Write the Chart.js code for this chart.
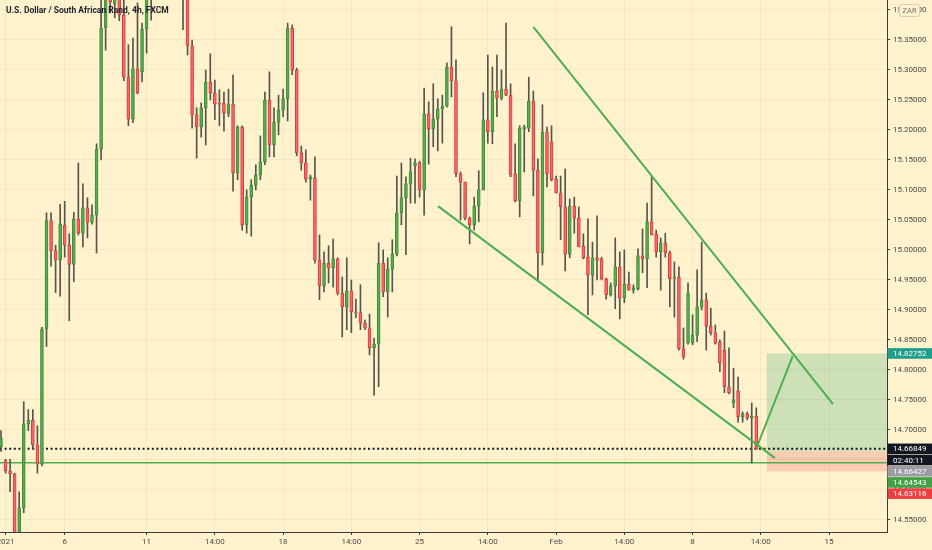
<!DOCTYPE html>
<html>
<head>
<meta charset="utf-8">
<script src="https://cdn.jsdelivr.net/npm/chart.js@4.4.1/dist/chart.umd.min.js"></script>
<style>
  html, body { margin: 0; padding: 0; background: #fff2cc; }
  #wrap { width: 932px; height: 550px; }
</style>
</head>
<body>
<div id="wrap"><canvas id="chart"></canvas></div>
<script>
// USDZAR 4h candles (index 0 = first bar at the left edge)
const opens = [
  14.672, 14.649, 14.632, 14.627, 14.520, 14.570, 14.710, 14.716, 14.675, 14.643,
  14.868, 15.049, 14.999, 14.983, 15.041, 15.008, 14.976, 15.052, 15.028, 15.070,
  15.046, 15.058, 15.168, 15.370, 15.440, 15.410, 15.430, 15.392, 15.288, 15.218,
  15.302, 15.297, 15.368, 15.440, 15.450, 15.470, 15.455, 15.475, 15.460, 15.445,
  15.435, 15.430, 15.340, 15.225, 15.205, 15.237, 15.280, 15.262, 15.245, 15.245,
  15.227, 15.243, 15.128, 15.205, 15.042, 15.088, 15.108, 15.125, 15.147, 15.250,
  15.175, 15.213, 15.233, 15.252, 15.370, 15.300, 15.162, 15.145, 15.118, 15.120,
  14.983, 14.940, 14.978, 14.970, 14.985, 14.928, 14.905, 14.932, 14.897, 14.895,
  14.878, 14.870, 14.837, 14.843, 14.978, 14.930, 14.968, 14.993, 15.062, 15.087,
  15.110, 15.140, 15.145, 15.100, 15.227, 15.202, 15.218, 15.235, 15.240, 15.305,
  15.282, 15.127, 15.113, 15.053, 15.042, 15.073, 15.100, 15.217, 15.197, 15.265,
  15.253, 15.268, 15.258, 15.127, 15.082, 15.202, 15.203, 15.248, 15.133, 14.995,
  15.197, 15.180, 15.118, 15.095, 15.072, 14.993, 15.073, 15.053, 15.007, 14.988,
  14.958, 14.987, 14.985, 14.952, 14.925, 14.940, 14.972, 14.920, 14.943, 14.933,
  14.935, 14.990, 14.985, 15.047, 15.027, 14.997, 15.012, 14.995, 14.953, 14.955,
  14.835, 14.845, 14.845, 14.858, 14.905, 14.917, 14.873, 14.862, 14.847, 14.833,
  14.772, 14.745, 14.765, 14.722, 14.727, 14.720, 14.723
];
const highs = [
  14.699, 14.651, 14.651, 14.628, 14.597, 14.747, 14.734, 14.734, 14.707, 14.871,
  15.062, 15.062, 15.008, 15.076, 15.081, 15.027, 15.063, 15.145, 15.110, 15.087,
  15.075, 15.177, 15.425, 15.460, 15.460, 15.450, 15.450, 15.420, 15.342, 15.353,
  15.412, 15.378, 15.460, 15.470, 15.480, 15.490, 15.490, 15.485, 15.470, 15.455,
  15.450, 15.440, 15.350, 15.237, 15.245, 15.300, 15.327, 15.283, 15.267, 15.263,
  15.268, 15.292, 15.207, 15.207, 15.100, 15.117, 15.142, 15.190, 15.263, 15.297,
  15.237, 15.258, 15.268, 15.378, 15.375, 15.303, 15.173, 15.167, 15.125, 15.155,
  15.025, 14.997, 15.007, 15.018, 14.987, 14.955, 14.987, 14.950, 14.918, 14.942,
  14.883, 14.893, 14.853, 15.012, 15.000, 14.987, 15.017, 15.123, 15.145, 15.122,
  15.153, 15.152, 15.148, 15.270, 15.247, 15.277, 15.252, 15.258, 15.312, 15.372,
  15.317, 15.130, 15.113, 15.055, 15.088, 15.132, 15.262, 15.325, 15.305, 15.325,
  15.300, 15.378, 15.277, 15.177, 15.207, 15.208, 15.288, 15.265, 15.152, 15.242,
  15.205, 15.207, 15.123, 15.123, 15.135, 15.085, 15.088, 15.072, 15.027, 15.052,
  15.013, 15.057, 14.988, 14.953, 14.945, 15.020, 14.997, 15.000, 14.963, 14.942,
  15.002, 15.035, 15.078, 15.122, 15.033, 15.020, 15.028, 14.998, 14.980, 14.972,
  14.870, 14.945, 14.892, 14.967, 15.013, 14.928, 14.903, 14.875, 14.850, 14.865,
  14.837, 14.803, 14.788, 14.730, 14.730, 14.745, 14.737
];
const lows = [
  14.664, 14.628, 14.597, 14.500, 14.505, 14.562, 14.699, 14.669, 14.628, 14.640,
  14.839, 14.973, 14.929, 14.923, 14.988, 14.882, 14.947, 15.025, 15.005, 15.020,
  15.043, 14.995, 15.150, 15.333, 15.395, 15.387, 15.382, 15.282, 15.207, 15.212,
  15.260, 15.280, 15.328, 15.383, 15.440, 15.445, 15.450, 15.450, 15.430, 15.425,
  15.367, 15.325, 15.203, 15.153, 15.188, 15.175, 15.250, 15.217, 15.207, 15.198,
  15.222, 15.098, 15.117, 15.033, 15.028, 15.023, 15.100, 15.117, 15.142, 15.155,
  15.155, 15.192, 15.222, 15.215, 15.292, 15.157, 15.133, 15.113, 15.083, 14.978,
  14.917, 14.930, 14.945, 14.938, 14.925, 14.855, 14.867, 14.862, 14.887, 14.867,
  14.867, 14.825, 14.758, 14.772, 14.922, 14.888, 14.930, 14.990, 15.042, 14.992,
  15.078, 15.078, 15.088, 15.058, 15.143, 15.172, 15.165, 15.178, 15.238, 15.255,
  15.122, 15.050, 15.050, 15.010, 15.033, 15.047, 15.100, 15.178, 15.177, 15.222,
  15.250, 15.257, 15.122, 15.080, 15.055, 15.130, 15.197, 15.090, 14.950, 14.975,
  15.105, 15.115, 15.095, 15.017, 14.965, 14.987, 15.028, 15.005, 14.985, 14.892,
  14.925, 14.950, 14.950, 14.918, 14.923, 14.902, 14.885, 14.912, 14.933, 14.928,
  14.933, 14.962, 14.937, 15.025, 14.988, 14.933, 14.988, 14.905, 14.888, 14.833,
  14.818, 14.843, 14.842, 14.847, 14.900, 14.833, 14.858, 14.843, 14.797, 14.762,
  14.760, 14.737, 14.713, 14.713, 14.717, 14.645, 14.668
];
const closes = [
  14.686, 14.632, 14.627, 14.520, 14.570, 14.710, 14.716, 14.675, 14.643, 14.868,
  15.049, 14.999, 14.983, 15.043, 15.008, 14.976, 15.052, 15.028, 15.070, 15.046,
  15.058, 15.168, 15.370, 15.440, 15.413, 15.430, 15.392, 15.288, 15.218, 15.302,
  15.262, 15.368, 15.440, 15.450, 15.470, 15.455, 15.475, 15.460, 15.445, 15.435,
  15.430, 15.340, 15.225, 15.205, 15.237, 15.280, 15.262, 15.243, 15.243, 15.228,
  15.243, 15.128, 15.205, 15.042, 15.088, 15.108, 15.125, 15.147, 15.250, 15.175,
  15.213, 15.233, 15.252, 15.370, 15.300, 15.162, 15.145, 15.118, 15.122, 14.983,
  14.940, 14.978, 14.970, 14.985, 14.928, 14.905, 14.932, 14.897, 14.895, 14.878,
  14.870, 14.837, 14.843, 14.978, 14.930, 14.968, 14.993, 15.062, 15.087, 15.110,
  15.130, 15.145, 15.100, 15.227, 15.202, 15.218, 15.235, 15.240, 15.305, 15.282,
  15.127, 15.113, 15.053, 15.042, 15.073, 15.100, 15.217, 15.197, 15.265, 15.253,
  15.268, 15.258, 15.125, 15.082, 15.203, 15.205, 15.248, 15.133, 14.995, 15.197,
  15.127, 15.117, 15.095, 15.072, 14.993, 15.073, 15.053, 15.005, 14.987, 14.958,
  14.987, 14.983, 14.952, 14.925, 14.940, 14.972, 14.920, 14.943, 14.933, 14.937,
  14.990, 14.985, 15.047, 15.025, 14.997, 15.012, 14.995, 14.952, 14.955, 14.835,
  14.822, 14.928, 14.858, 14.905, 14.917, 14.873, 14.862, 14.845, 14.812, 14.772,
  14.762, 14.750, 14.722, 14.727, 14.720, 14.723, 14.668
];

// time axis labels (bar index -> text)
const tickIdx = [1, 14, 32, 47, 62, 77, 92, 107, 122, 137, 152, 167, 182];
const tickText = ['2021', '6', '11', '14:00', '18', '14:00', '25', '14:00', 'Feb', '14:00', '8', '14:00', '15'];
const priceTicks = [14.55, 14.60, 14.65, 14.70, 14.75, 14.80, 14.85, 14.90, 14.95, 15.00,
  15.05, 15.10, 15.15, 15.20, 15.25, 15.30, 15.35, 15.40];

// drawings: [bar index, price]
const lowerWedge = [[96.04, 15.073], [170.11, 14.653]];
const upperWedge = [[117.0, 15.372], [182.86, 14.743]];
const projection = [[166.15, 14.672], [174.0, 14.823]];

const lastPrice = 14.66849;
const supportLevel = 14.64543;
const entryPrice = 14.66427;
const targetPrice = 14.82752;
const stopPrice = 14.63116;
const positionStart = 168.3;
const countdown = '02:40:11';
const title = 'U.S. Dollar / South African Rand, 4h, FXCM';

const X_MIN = -0.22, X_MAX = 194.73;
const Y_MIN = 14.5299, Y_MAX = 15.4166;

const BG = '#fff2cc';
const UP_FILL = '#5aab52', UP_LINE = '#3d8c3a';
const DN_FILL = '#f26b6b', DN_LINE = '#dc3a3e';
const WICK = '#55564b';
const DRAW_GREEN = '#4caf50';
const TEXT = '#4a4a4a';
const AXIS = '#3a3a3a';
const GRID = 'rgba(120, 95, 40, 0.07)';
const FONT = 'Roboto';

const isUp = opens.map((o, i) => closes[i] >= o);
const bodyData = opens.map((o, i) => ({ x: i, y: [o, closes[i]] }));
const wickData = opens.map((o, i) => ({ x: i, y: [lows[i], highs[i]] }));
const toXY = (pts) => pts.map(p => ({ x: p[0], y: p[1] }));
const flat = (v) => [{ x: X_MIN, y: v }, { x: X_MAX, y: v }];

const bgPlugin = {
  id: 'bg',
  beforeDraw(chart) {
    const c = chart.ctx;
    c.save();
    c.fillStyle = BG;
    c.fillRect(0, 0, chart.width, chart.height);
    c.restore();
  }
};

// long position tool (profit / loss zones)
const positionPlugin = {
  id: 'position',
  beforeDatasetsDraw(chart) {
    const c = chart.ctx, xs = chart.scales.x, ys = chart.scales.y;
    const x0 = xs.getPixelForValue(positionStart);
    const x1 = chart.chartArea.right;
    const yT = ys.getPixelForValue(targetPrice);
    const yE = ys.getPixelForValue(entryPrice);
    const yS = ys.getPixelForValue(stopPrice);
    c.save();
    c.fillStyle = 'rgba(30, 160, 110, 0.22)';
    c.fillRect(x0, yT, x1 - x0, yE - yT);
    c.fillStyle = 'rgba(242, 70, 80, 0.22)';
    c.fillRect(x0, yE, x1 - x0, yS - yE);
    c.restore();
  }
};

const overlayPlugin = {
  id: 'overlay',
  afterDraw(chart) {
    const c = chart.ctx, ys = chart.scales.y, area = chart.chartArea;
    c.save();
    // title
    c.font = 'bold 8.5px ' + FONT;
    c.fillStyle = '#1e222d';
    c.textBaseline = 'middle';
    c.textAlign = 'left';
    c.fillText(title, 6, 11);

    // price scale labels, stacked like TradingView does
    const labels = [
      { v: targetPrice, t: targetPrice.toFixed(5), bg: '#1f9e8a' },
      { v: lastPrice, t: lastPrice.toFixed(5), bg: '#131722' },
      { v: lastPrice, t: countdown, bg: '#131722' },
      { v: entryPrice, t: entryPrice.toFixed(5), bg: '#9a9ca5' },
      { v: supportLevel, t: supportLevel.toFixed(5), bg: '#43a047' },
      { v: stopPrice, t: stopPrice.toFixed(5), bg: '#ef3d40' }
    ];
    let prev = -100;
    c.font = '8px ' + FONT;
    labels.forEach(l => {
      let y = ys.getPixelForValue(l.v);
      if (y < prev + 11.2) y = prev + 11.2;
      prev = y;
      c.fillStyle = l.bg;
      c.fillRect(area.right + 0.5, y - 5.3, chart.width - area.right, 10.6);
      c.fillStyle = '#ffffff';
      c.fillText(l.t, area.right + 6, y + 0.5);
    });

    // currency badge
    c.beginPath();
    c.roundRect(899.5, 4.5, 20, 12, 2);
    c.fillStyle = BG;
    c.fill();
    c.strokeStyle = '#d6cdb3';
    c.lineWidth = 1;
    c.stroke();
    c.fillStyle = '#707070';
    c.font = '7.5px ' + FONT;
    c.textAlign = 'center';
    c.fillText('ZAR', 909.5, 10.8);
    c.restore();
  }
};

const ctx = document.getElementById('chart').getContext('2d');
new Chart(ctx, {
  type: 'bar',
  data: {
    datasets: [
      { type: 'line', label: 'lower', data: toXY(lowerWedge), borderColor: DRAW_GREEN, borderWidth: 2, pointRadius: 0, order: 0 },
      { type: 'line', label: 'upper', data: toXY(upperWedge), borderColor: DRAW_GREEN, borderWidth: 2, pointRadius: 0, order: 0 },
      { type: 'line', label: 'projection', data: toXY(projection), borderColor: DRAW_GREEN, borderWidth: 2, pointRadius: 0, order: 0 },
      {
        label: 'bodies', data: bodyData,
        backgroundColor: isUp.map(u => u ? UP_FILL : DN_FILL),
        borderColor: isUp.map(u => u ? UP_LINE : DN_LINE),
        borderWidth: 1, borderSkipped: false,
        barThickness: 3, minBarLength: 1.2, grouped: false, order: 2
      },
      { label: 'wicks', data: wickData, backgroundColor: WICK, barThickness: 1, grouped: false, order: 3 },
      { type: 'line', label: 'last', data: flat(lastPrice), borderColor: '#131722', borderWidth: 2, borderDash: [2, 2.6], pointRadius: 0, order: 4 },
      { type: 'line', label: 'support', data: flat(supportLevel), borderColor: DRAW_GREEN, borderWidth: 1.5, pointRadius: 0, order: 4 }
    ]
  },
  options: {
    responsive: true,
    maintainAspectRatio: false,
    animation: false,
    events: [],
    layout: { padding: 0 },
    plugins: { legend: { display: false }, tooltip: { enabled: false } },
    scales: {
      x: {
        type: 'linear', min: X_MIN, max: X_MAX, offset: false,
        grid: { offset: false, color: GRID, tickColor: AXIS, tickLength: 3 },
        border: { color: AXIS, width: 1 },
        ticks: {
          autoSkip: false, maxRotation: 0, padding: 2, color: TEXT,
          font: { family: FONT, size: 8 },
          callback: (v) => tickText[tickIdx.indexOf(v)]
        },
        afterBuildTicks: (s) => { s.ticks = tickIdx.map(v => ({ value: v })); },
        afterFit: (s) => { s.height = 18; s.paddingLeft = 0; s.paddingRight = 0; }
      },
      y: {
        position: 'right', min: Y_MIN, max: Y_MAX,
        grid: { color: GRID, tickColor: AXIS, tickLength: 3 },
        border: { color: AXIS, width: 1 },
        ticks: {
          padding: 3, color: TEXT,
          font: { family: FONT, size: 8 },
          callback: (v) => v.toFixed(5)
        },
        afterBuildTicks: (s) => { s.ticks = priceTicks.map(v => ({ value: v })); },
        afterFit: (s) => { s.width = 45; s.paddingTop = 0; s.paddingBottom = 0; }
      }
    }
  },
  plugins: [bgPlugin, positionPlugin, overlayPlugin]
});
</script>
</body>
</html>
